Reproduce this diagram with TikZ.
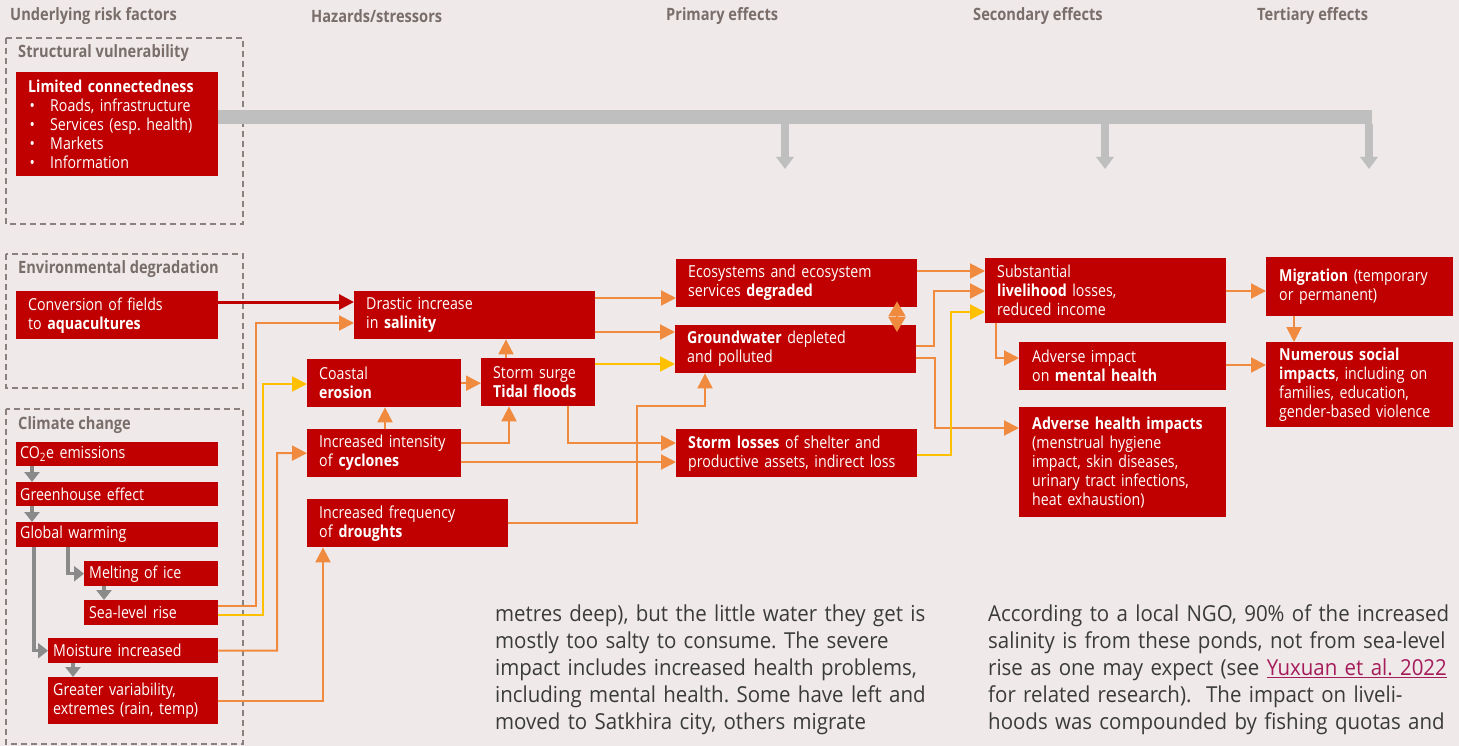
\documentclass[tikz,border=0pt]{standalone}
\usepackage{fontspec}
\setmainfont{Open Sans}[FakeStretch=0.86]
\newfontfamily\bodyfont{Open Sans}[FakeStretch=0.93]
\usetikzlibrary{arrows.meta,positioning,calc}

\definecolor{bgpaper}{HTML}{EFE9E9}
\definecolor{boxred}{HTML}{C00000}
\definecolor{linkorange}{HTML}{EF8A3E}
\definecolor{linkyellow}{HTML}{FFC000}
\definecolor{chaingrey}{HTML}{8A8A8A}
\definecolor{bargrey}{HTML}{BFBFBF}
\definecolor{headgrey}{HTML}{7A6E6A}
\definecolor{framegrey}{HTML}{8A807D}
\definecolor{bodydark}{HTML}{3A3A3A}
\definecolor{linkred}{HTML}{A51C5B}

\newcommand{\listdot}{\makebox[22pt][l]{\hspace{1.5pt}\textbullet}}
\frenchspacing

\begin{document}
\begin{tikzpicture}[x=1pt, y=-1pt,
	redbox/.style={fill=boxred, text=white, anchor=north west, align=left,
		inner ysep=0pt, font=\fontsize{16.5}{19}\selectfont},
	box/.code n args={3}{\pgfmathsetmacro\boxtw{#1-2*#3}%
		\pgfkeysalso{minimum width=#1pt, minimum height=#2pt, inner xsep=#3pt, text width=\boxtw pt}},
	headline/.style={anchor=west, inner sep=0pt, text=headgrey,
		font=\bfseries\fontsize{17}{20}\selectfont},
	groupframe/.style={draw=framegrey, line width=1.8pt, dash pattern=on 6pt off 4pt},
	bodytext/.style={anchor=base west, align=left, inner sep=0pt, text width=520pt,
		text=bodydark, font=\bodyfont\fontsize{22}{27}\selectfont},
	link/.style={draw=linkorange, line width=2pt, -{Triangle[length=15pt,width=15pt]}},
	ylink/.style={link, draw=linkyellow},
	redlink/.style={link, draw=boxred, line width=3pt},
	twoway/.style={link, {Triangle[length=15pt,width=17pt]}-{Triangle[length=15pt,width=17pt]}},
	chain/.style={draw=chaingrey, line width=3.5pt, -{Triangle[length=10pt,width=15pt]}},
	bar/.style={draw=bargrey, line width=14pt},
	bardrop/.style={draw=bargrey, line width=8pt, -{Triangle[length=12pt,width=17pt]}}]

	\path[use as bounding box, fill=bgpaper] (0,0) rectangle (1459,746);

	% column heads
	\node[headline] (hrisk) at (10,16) {Underlying risk factors};
	\node[headline] (hhaz) at (311,16) {Hazards/stressors};
	\node[headline] (hprim) at (666,16) {Primary effects};
	\node[headline] (hsec) at (973,16) {Secondary effects};
	\node[headline] (hter) at (1257,16) {Tertiary effects};

	% risk factor groups
	\draw[groupframe] (6,38) rectangle (243,224);
	\draw[groupframe] (6,254) rectangle (243,388);
	\draw[groupframe] (6,409) rectangle (243,744);
	\node[headline] (gstruct) at (18,53) {Structural vulnerability};
	\node[headline] (genv) at (18,269) {Environmental degradation};
	\node[headline] (gclim) at (18,425) {Climate change};

	\node[redbox, box={202}{104}{12}] (limited) at (16,72) {\textbf{Limited connectedness}\\
		\listdot Roads, infrastructure\\ \listdot Services (esp. health)\\
		\listdot Markets\\ \listdot Information};
	\node[redbox, box={202}{48}{12}] (conv) at (16,291) {Conversion of fields\\to \textbf{aquacultures}};
	\node[redbox, box={202}{24}{4}] (co2) at (16,442) {CO\textsubscript{2}e emissions};
	\node[redbox, box={202}{24}{4}] (greenh) at (16,482) {Greenhouse effect};
	\node[redbox, box={202}{25}{4}] (warm) at (16,522) {Global warming};
	\node[redbox, box={134}{25}{5}] (melt) at (84,561) {Melting of ice};
	\node[redbox, box={134}{25}{5}] (slr) at (84,600) {Sea-level rise};
	\node[redbox, box={170}{25}{5}] (moist) at (48,638) {Moisture increased};
	\node[redbox, box={170}{47}{5}] (var) at (48,677) {Greater variability,\\extremes (rain, temp)};

	% hazards
	\node[redbox, box={241}{48}{12}] (sal) at (354,291) {Drastic increase\\in \textbf{salinity}};
	\node[redbox, box={154}{48}{12}] (eros) at (307,359) {Coastal\\\textbf{erosion}};
	\node[redbox, box={114}{48}{12}] (surge) at (481,358) {Storm surge\\\textbf{Tidal floods}};
	\node[redbox, box={154}{48}{12}] (cyc) at (307,429) {Increased intensity\\of \textbf{cyclones}};
	\node[redbox, box={201}{48}{12}] (drought) at (307,499) {Increased frequency\\of \textbf{droughts}};

	% effects
	\node[redbox, box={241}{48}{12}] (eco) at (676,259) {Ecosystems and ecosystem\\services \textbf{degraded}};
	\node[redbox, box={241}{48}{12}] (ground) at (675,325) {\textbf{Groundwater} depleted\\and polluted};
	\node[redbox, box={241}{48}{12}] (loss) at (676,429) {\textbf{Storm losses} of shelter and\\productive assets, indirect loss};
	\node[redbox, box={241}{65}{12}] (subst) at (985,258) {Substantial\\\textbf{livelihood} losses,\\reduced income};
	\node[redbox, box={207}{48}{13}] (mental) at (1019,342) {Adverse impact\\on \textbf{mental health}};
	\node[redbox, box={207}{110}{13}] (health) at (1019,407) {\textbf{Adverse health impacts}\\(menstrual hygiene\\
		impact, skin diseases,\\urinary tract infections,\\heat exhaustion)};
	\node[redbox, box={187}{59}{13}] (migr) at (1266,257) {\textbf{Migration} (temporary\\or permanent)};
	\node[redbox, box={187}{85}{13}] (social) at (1266,342) {\textbf{Numerous social}\\\textbf{impacts}, including on\\
		families, education,\\gender-based violence};

	% structural bar
	\draw[bar] (limited.east |- 0,117.5) -- (1372,117.5);
	\coordinate (dropprim) at (785,169);
	\coordinate (dropsec) at (1105,169);
	\coordinate (dropter) at (1369,169);
	\draw[bardrop] (dropprim |- 0,124) -- (dropprim);
	\draw[bardrop] (dropsec |- 0,124) -- (dropsec);
	\draw[bardrop] (dropter |- 0,124) -- (dropter);

	% climate chain
	\draw[chain] (co2.south -| 32,0) -- (greenh.north -| 32,0);
	\draw[chain] (greenh.south -| 32,0) -- (warm.north -| 32,0);
	\draw[chain] (warm.south -| 68,0) |- (melt.west);
	\draw[chain] (melt.south -| 104,0) -- (slr.north -| 104,0);
	\draw[chain] (warm.south -| 34,0) |- (moist.west);
	\draw[chain] (moist.south -| 73,0) -- (var.north -| 73,0);

	% into hazards
	\draw[redlink] (conv.east |- 0,302) -- (sal.west |- 0,302);
	\draw[link] (slr.east |- 0,606) -| (256,323) -- (sal.west |- 0,323);
	\draw[link] (moist.east) -| (277,453) -- (cyc.west);
	\draw[link] (var.east) -| (drought.south -| 323,0);
	\draw[link] (cyc.north -| 385,0) -- (eros.south -| 385,0);
	\draw[link] (eros.east) -- (surge.west |- eros.east);
	\draw[link] (cyc.east |- 0,443) -| (surge.south -| 509,0);
	\draw[link] (surge.north -| 506,0) -- (sal.south -| 506,0);
	\draw[ylink] (slr.east |- 0,615) -| (263,384) -- (eros.west |- 0,384);

	% into primary effects
	\draw[link] (sal.east |- 0,298) -- (eco.west |- 0,298);
	\draw[link] (sal.east |- 0,332) -- (ground.west |- 0,332);
	\draw[link] (surge.south -| 568,0) |- (loss.west |- 0,443);
	\draw[link] (cyc.east |- 0,462) -- (loss.west |- 0,462);
	\draw[link] (drought.east) -| (637,406) -| (ground.south -| 705,0);
	\draw[ylink] (surge.east |- 0,364) -- (ground.west |- 0,364);
	\draw[twoway] ($(eco.south -| 897,0)+(0,-6)$) -- ($(ground.north -| 897,0)+(0,7)$);

	% into secondary and tertiary effects
	\draw[link] (eco.east |- 0,271) -- (subst.west |- 0,271);
	\draw[link] (ground.east |- 0,346) -| (934,291) -- (subst.west |- 0,291);
	\draw[link] (ground.east |- 0,358) -| (935,428) -- (health.west |- 0,428);
	\draw[link] (subst.south -| 996,0) |- (mental.west |- 0,358);
	\draw[ylink] (loss.east |- 0,455) -| (951,312) -- (subst.west |- 0,312);
	\draw[link] (subst.east |- 0,291) -- (migr.west |- 0,291);
	\draw[link] (mental.east |- 0,365) -- (social.west |- 0,365);
	\draw[link] (migr.south -| 1294,0) -- (social.north -| 1294,0);

	% running text
	\node[bodytext] (colleft) at (495,621) {metres deep), but the little water they get is\\
		mostly too salty to consume. The severe\\
		impact includes increased health problems,\\
		including mental health. Some have left and\\
		moved to Satkhira city, others migrate};
	\node[bodytext] (colright) at (988,621) {According to a local NGO, 90\% of the increased\\
		salinity is from these ponds, not from sea-level\\
		rise as one may expect (see \textcolor{linkred}{\underline{Yuxuan et al. 2022}}\\
		for related research).\ \ The impact on liveli-\\
		hoods was compounded by fishing quotas and};
\end{tikzpicture}
\end{document}
